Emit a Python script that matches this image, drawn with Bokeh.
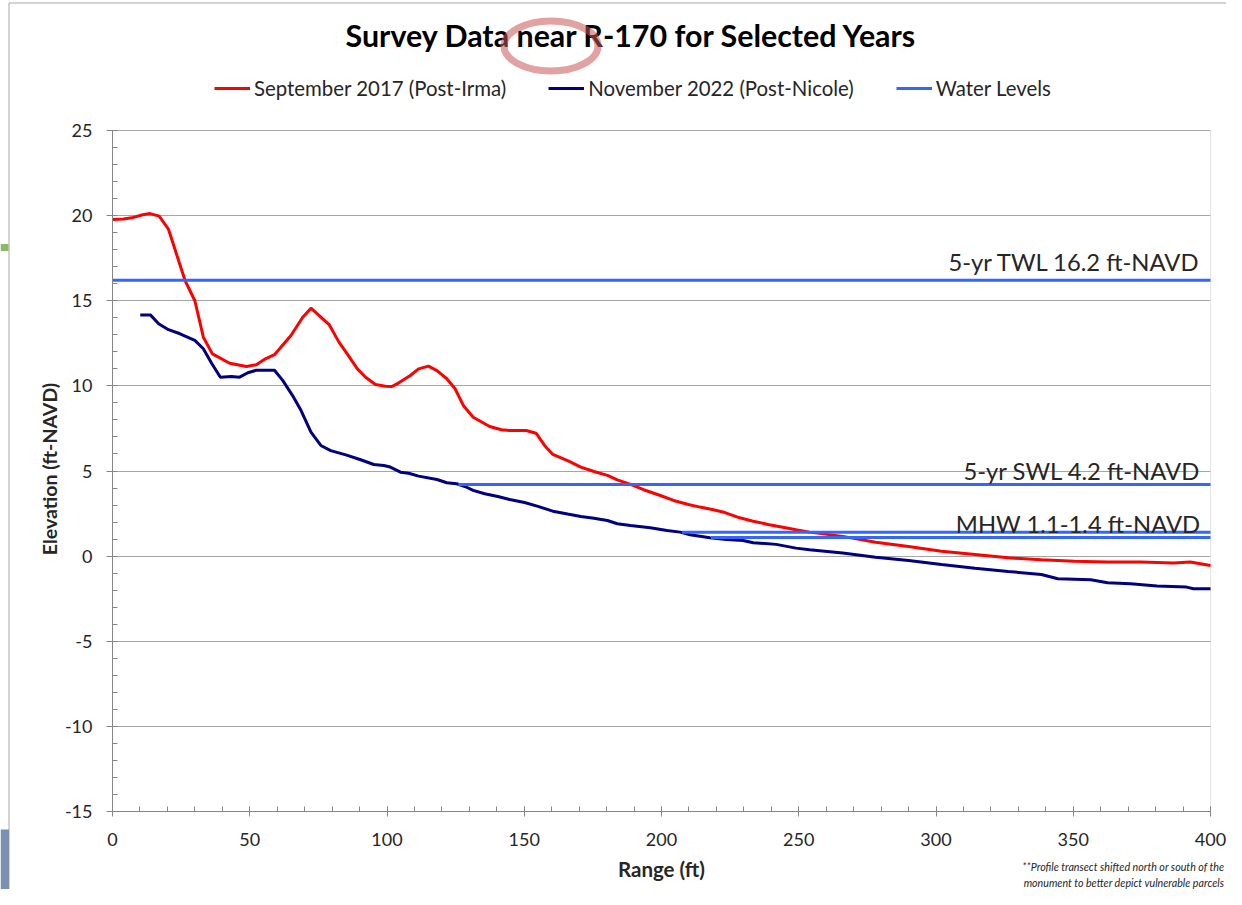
import numpy as np
from bokeh.plotting import figure
from bokeh.models import (Range1d, Legend, LegendItem, Label, FixedTicker, BoxAnnotation)
from bokeh.embed import file_html
from bokeh.resources import INLINE

# ---- data ----
sept2017_x = [0, 4, 7, 11, 13.7, 17, 20.4, 26.4, 30, 33.1, 36.4, 42.7, 48.8, 52.4, 55.7, 59,
              65, 69.3, 72.3, 75.3, 78.9, 82.5, 85.5, 89.2, 92.2, 95.8, 99.4, 101.8, 104.3,
              108.5, 111.5, 115.1, 118.2, 121.8, 124.8, 127.8, 131.4, 137.4, 141.7, 144.7,
              150.7, 154.3, 157.4, 160.4, 166.4, 170.6, 175.4, 180.3, 183.9, 188.7, 193.5,
              199.6, 204.4, 209.8, 214.0, 218.9, 223.1, 228.5, 233.4, 238.8, 244.2, 249.0,
              253.9, 266, 278, 290, 302, 314.2, 326.3, 338.4, 350.4, 362.5, 374.5, 386.6,
              392.6, 400]
sept2017_y = [19.77, 19.8, 19.87, 20.05, 20.12, 19.97, 19.2, 16.2, 15.0, 12.86, 11.88, 11.33,
              11.14, 11.24, 11.59, 11.83, 12.96, 14.03, 14.56, 14.13, 13.6, 12.57, 11.88, 11.0,
              10.51, 10.08, 9.98, 9.96, 10.18, 10.61, 11.0, 11.16, 10.9, 10.42, 9.83, 8.85,
              8.16, 7.61, 7.42, 7.38, 7.38, 7.22, 6.5, 5.97, 5.56, 5.23, 4.97, 4.74, 4.48,
              4.21, 3.9, 3.56, 3.27, 3.03, 2.88, 2.72, 2.56, 2.25, 2.05, 1.86, 1.7, 1.55,
              1.41, 1.16, 0.82, 0.57, 0.29, 0.1, -0.1, -0.21, -0.3, -0.35, -0.35, -0.41,
              -0.35, -0.55]

nov2022_x = [10.1, 13.8, 16.8, 20.4, 24.6, 30.0, 33.1, 36.1, 39.3, 43.3, 46.3, 49.3, 52.4, 59,
             62, 65.6, 68.7, 72.3, 75.9, 79.5, 85, 90.4, 95.2, 98.8, 101.2, 104.9, 107.9,
             111.5, 118.2, 121.8, 125.4, 128.4, 131.4, 135.6, 140.4, 144.7, 150.1, 155,
             160.4, 165.8, 170.6, 175.4, 180.3, 183.9, 188.7, 195.9, 202.0, 206.8, 210.4,
             217.6, 223.7, 229.7, 233.4, 241.8, 249, 253.9, 266, 278, 290, 302, 314.2, 326.3,
             338.4, 344.4, 356.4, 362.5, 370.9, 380.5, 391.3, 393.8, 400]
nov2022_y = [14.17, 14.17, 13.65, 13.3, 13.06, 12.67, 12.18, 11.33, 10.51, 10.55, 10.51, 10.77,
             10.92, 10.92, 10.32, 9.43, 8.55, 7.28, 6.5, 6.2, 5.95, 5.66, 5.38, 5.32, 5.23,
             4.93, 4.87, 4.7, 4.5, 4.31, 4.25, 4.09, 3.86, 3.66, 3.5, 3.33, 3.15, 2.92, 2.64,
             2.47, 2.33, 2.23, 2.09, 1.9, 1.8, 1.67, 1.51, 1.41, 1.26, 1.08, 0.98, 0.92, 0.79,
             0.69, 0.47, 0.38, 0.18, -0.06, -0.26, -0.49, -0.71, -0.9, -1.08, -1.33, -1.39,
             -1.56, -1.62, -1.76, -1.82, -1.92, -1.92]

wl_levels = [16.2, 4.2, 1.4, 1.1]
wl_start = [0, 126, 207.5, 218]
wl_end = [400, 400, 400, 400]
wl_label_text = ["5-yr TWL 16.2 ft-NAVD", "5-yr SWL 4.2 ft-NAVD", "MHW 1.1-1.4 ft-NAVD"]
wl_label_level = [16.2, 4.2, 1.4]

x_ticks = [0, 50, 100, 150, 200, 250, 300, 350, 400]
y_ticks = [-15, -10, -5, 0, 5, 10, 15, 20, 25]
x_lo, x_hi = 0, 400
y_lo, y_hi = -15, 25

title_text = "Survey Data near R-170 for Selected Years"
x_title = "Range (ft)"
y_title = "Elevation (ft-NAVD)"
footnote_lines = ["**Profile transect shifted north or south of the",
                  "monument to better depict vulnerable parcels"]

FONT = "Lato"
RED = "#FF0000"
NAVY = "#000080"
BLUE = "#3366FF"
TXT = "#262626"

# ---- geometry (pixels) ----
W, H = 1226, 889
AX_L, AX_R = 112, 1210         # pixel columns of x=0 and x=400
AX_T, AX_B = 130, 811          # pixel rows of y=25 and y=-15
ppx = (AX_R - AX_L) / (x_hi - x_lo)
ppy = (AX_B - AX_T) / (y_hi - y_lo)
x_start, x_end = x_lo - AX_L / ppx, x_hi + (W - AX_R) / ppx
y_start, y_end = y_lo - (H - AX_B) / ppy, y_hi + AX_T / ppy

def px_to_x(px):
    return x_start + px / ppx

def py_to_y(py):
    return y_end - py / ppy

p = figure(width=W, height=H, output_backend="svg", toolbar_location=None, title=None,
           x_range=Range1d(x_start, x_end), y_range=Range1d(y_start, y_end),
           min_border_left=0, min_border_right=0, min_border_top=0, min_border_bottom=0)
p.outline_line_color = None
p.background_fill_color = "white"
p.border_fill_color = "white"

# grid lines (horizontal only, limited to the plotting area)
p.xgrid.visible = False
p.ygrid.ticker = FixedTicker(ticks=y_ticks)
p.ygrid.grid_line_color = "#A6A6A6"
p.ygrid.grid_line_width = 1
try:
    p.ygrid.cross_bounds = (x_lo, x_hi)
except Exception:
    p.ygrid.visible = False
    p.segment(x0=[x_lo] * len(y_ticks), y0=y_ticks, x1=[x_hi] * len(y_ticks), y1=y_ticks,
              line_color="#A6A6A6", line_width=1, level="underlay")

# plot-area border
p.add_layout(BoxAnnotation(left=x_lo, right=x_hi, bottom=y_lo, top=y_hi, fill_alpha=0,
                           line_color="#A6A6A6", line_width=1, level="underlay"))
# chart-area border (left and top edges) and slide fragments at the left edge
p.line(x=[px_to_x(8.5), px_to_x(8.5), px_to_x(W)], y=[py_to_y(H), py_to_y(2.5), py_to_y(2.5)],
       line_color="#A8A8A8", line_width=1, level="underlay")
p.quad(left=[px_to_x(0)], right=[px_to_x(8)], top=[py_to_y(243.5)], bottom=[py_to_y(250.5)],
       fill_color="#8DB86B", line_color=None, level="underlay")
p.quad(left=[px_to_x(0)], right=[px_to_x(8.5)], top=[py_to_y(829)], bottom=[py_to_y(H)],
       fill_color="#7A90AE", line_color=None, level="underlay")

xa, ya = p.xaxis[0], p.yaxis[0]
xa.ticker = FixedTicker(ticks=x_ticks, minor_ticks=list(range(0, 401, 10)))
ya.ticker = FixedTicker(ticks=y_ticks, minor_ticks=list(range(-15, 26, 1)))
ya.major_label_overrides = {t: str(t) for t in y_ticks}
xa.bounds = (x_lo, x_hi)
ya.bounds = (y_lo, y_hi)
xa.fixed_location = y_lo
ya.fixed_location = x_lo
for ax in (xa, ya):
    ax.axis_line_color = "#868686"
    ax.major_tick_line_color = "#868686"
    ax.minor_tick_line_color = "#868686"
    ax.major_label_text_font = FONT
    ax.major_label_text_font_size = "18px"
    ax.major_label_text_color = TXT
    ax.axis_label_text_font = FONT
    ax.axis_label_text_font_style = "bold"
    ax.axis_label_text_font_size = "20.5px"
    ax.axis_label_text_color = TXT
ya.major_tick_out = 6
ya.major_tick_in = 0
ya.minor_tick_in = 5
ya.minor_tick_out = 0
ya.major_label_standoff = 14
xa.major_tick_out = 5
xa.major_tick_in = 5
xa.minor_tick_in = 5
xa.minor_tick_out = 0
xa.major_label_standoff = 16
xa.axis_label = x_title
xa.axis_label_standoff = 8

# y axis title (rotated)
p.add_layout(Label(x=48.5, y=H - 468.5, x_units="screen", y_units="screen", text=y_title,
                   angle=np.pi / 2, text_align="center", text_baseline="middle",
                   text_font=FONT, text_font_style="bold", text_font_size="19.5px",
                   text_color=TXT))

r_sep = p.line(sept2017_x, sept2017_y, line_color=RED, line_width=3)
r_nov = p.line(nov2022_x, nov2022_y, line_color=NAVY, line_width=3)
r_wl = p.segment(x0=wl_start, y0=wl_levels, x1=wl_end, y1=wl_levels, line_color=BLUE, line_width=3)

for txt, lvl, off in zip(wl_label_text, wl_label_level, [18, 13.5, 8.7]):
    p.add_layout(Label(x=x_hi, y=lvl, text=txt, text_align="right", text_baseline="middle",
                       x_offset=-10, y_offset=off, text_font=FONT, text_font_size="23.8px",
                       text_color=TXT))

legend = Legend(items=[LegendItem(label="September 2017 (Post-Irma)", renderers=[r_sep]),
                       LegendItem(label="November 2022 (Post-Nicole)", renderers=[r_nov]),
                       LegendItem(label="Water Levels", renderers=[r_wl])],
                orientation="horizontal", location=(214, H - 100),
                glyph_width=36, glyph_height=24, label_height=24, label_standoff=4,
                spacing=42, padding=0, margin=0,
                label_text_font=FONT, label_text_font_size="20.4px", label_text_color=TXT,
                border_line_color=None, background_fill_alpha=0)
p.add_layout(legend, "center")

p.add_layout(Label(x=631.5, y=H - 34.7, x_units="screen", y_units="screen",
                   text=title_text, text_align="center", text_baseline="middle",
                   text_font=FONT, text_font_style="bold", text_font_size="30.4px",
                   text_color="black"))

# highlight ellipse drawn around "near R" in the title
p.ellipse(x=[px_to_x(550.5)], y=[py_to_y(45.5)], width=94, height=50,
          width_units="screen", height_units="screen",
          fill_alpha=0, line_color="#CC5555", line_alpha=0.55, line_width=7, level="overlay")

for txt, yy in zip(footnote_lines, [H - 866, H - 882]):
    p.add_layout(Label(x=W - 2, y=yy, x_units="screen", y_units="screen", text=txt,
                       text_align="right", text_baseline="middle", text_font=FONT,
                       text_font_style="italic", text_font_size="10.7px", text_color=TXT))

open("out.html", "w").write(file_html(p, INLINE))
